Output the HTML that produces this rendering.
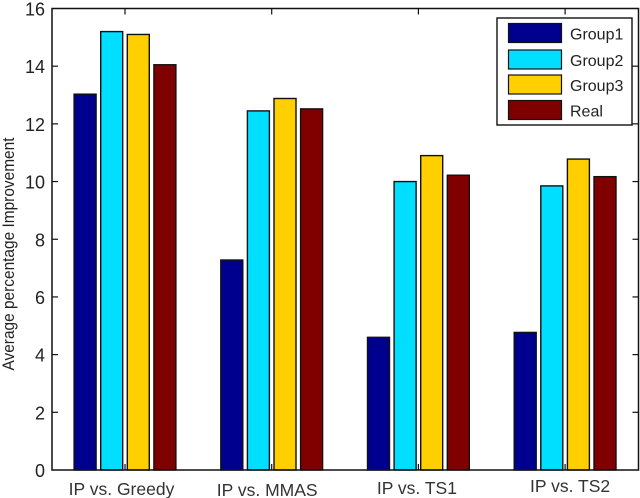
<!DOCTYPE html>
<html>
<head>
<meta charset="utf-8">
<style>
html,body{margin:0;padding:0;background:#fff;}
svg{display:block;filter:blur(0.3px);}
text{font-family:"Liberation Sans",sans-serif;}
</style>
</head>
<body>
<svg id="chart" width="640" height="498" viewBox="0 0 640 498" xmlns="http://www.w3.org/2000/svg"></svg>
<script>
const categories = ['IP vs. Greedy', 'IP vs. MMAS', 'IP vs. TS1', 'IP vs. TS2'];
const seriesNames = ['Group1', 'Group2', 'Group3', 'Real'];
const group1 = [13.03, 7.28, 4.6, 4.77];
const group2 = [15.2, 12.45, 10.0, 9.85];
const group3 = [15.1, 12.88, 10.9, 10.78];
const real = [14.05, 12.52, 10.22, 10.17];
const yTicks = [0, 2, 4, 6, 8, 10, 12, 14, 16];

const allSeries = [group1, group2, group3, real];
const colors = ['#00008f', '#00dfff', '#ffcf00', '#800000'];
const svg = document.getElementById('chart');
const NS = 'http://www.w3.org/2000/svg';
const left = 52, right = 638.5, top0 = 8.5, bottom = 470;
const yScale = v => bottom - (v / 16) * (bottom - top0);
const xScale = i => 125 + i * 146.7;
const labelShift = c => [[-3.5, 0], [-4.5, 1], [-1.5, -1], [5, -3]][c];

function mk(tag, attrs, text) {
  const el = document.createElementNS(NS, tag);
  for (const k in attrs) el.setAttribute(k, attrs[k]);
  if (text !== undefined) el.textContent = text;
  svg.appendChild(el);
  return el;
}

allSeries.forEach((vals, s) => {
  vals.forEach((v, c) => {
    const cx = xScale(c) + (s - 1.5) * 26.6;
    const el = mk('rect', {x: cx - 11, y: yScale(v), width: 22, height: bottom - yScale(v),
      fill: colors[s], stroke: '#111', 'stroke-width': 1.4});
    
    
  });
});

const frame = mk('rect', {x: left, y: top0, width: right - left, height: bottom - top0, fill: 'none', stroke: '#111', 'stroke-width': 1.5});



yTicks.forEach(t => {
  const y = yScale(t);
  if (t > 0 && t < 16) {
    const tl = mk('line', {x1: left, x2: left + 6, y1: y, y2: y, stroke: '#111', 'stroke-width': 1.2});
    
    
    const tr = mk('line', {x1: right - 6, x2: right, y1: y, y2: y, stroke: '#111', 'stroke-width': 1.2});
    
    
  }
  const lb = mk('text', {x: 45, y: y + 7, 'text-anchor': 'end', 'font-size': 18, fill: '#222'}, String(t));
  
  
});

categories.forEach((name, c) => {
  const x = xScale(c);
  const t1 = mk('line', {x1: x, x2: x, y1: top0, y2: top0 + 6, stroke: '#111', 'stroke-width': 1.2});
  
  
  const t2 = mk('line', {x1: x, x2: x, y1: bottom - 6, y2: bottom, stroke: '#111', 'stroke-width': 1.2});
  
  
  const shift = labelShift(c);
  const lb = mk('text', {x: x + shift[0], y: 495 + shift[1], 'text-anchor': 'middle', 'font-size': 17.5, fill: '#333'}, name);
  
  
});

const yTitle = mk('text', {transform: 'translate(14,254) rotate(-90)', 'text-anchor': 'middle', 'font-size': 16.5, textLength: 233, lengthAdjust: 'spacingAndGlyphs', fill: '#222'}, 'Average percentage Improvement');



const legendBox = mk('rect', {x: 497, y: 18, width: 135, height: 107, fill: '#fff', stroke: '#111', 'stroke-width': 1.4});



const swatchY = [23.5, 50, 75, 100.5];
seriesNames.forEach((name, s) => {
  const sw = mk('rect', {x: 508.5, y: swatchY[s], width: 53, height: 19, fill: colors[s], stroke: '#111', 'stroke-width': 1.2});
  
  
  const lb = mk('text', {x: 570, y: swatchY[s] + 16, 'font-size': 16, fill: '#222'}, name);
  
  
});
</script>
</body>
</html>
